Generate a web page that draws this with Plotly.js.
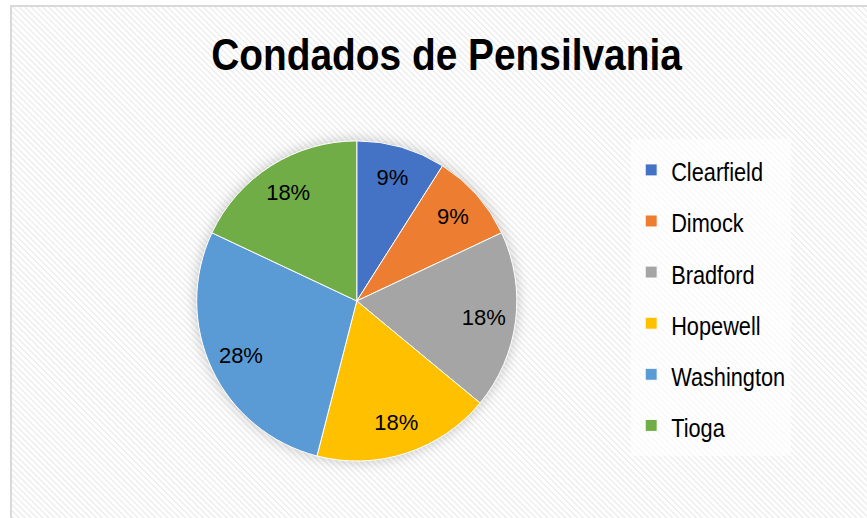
<!DOCTYPE html>
<html>
<head>
<meta charset="utf-8">
<script src="https://cdn.plot.ly/plotly-3.0.1.min.js"></script>
<style>
  html, body { margin: 0; padding: 0; background: #ffffff; }
  #bg {
    position: absolute; left: 10px; top: 5px; width: 870px; height: 520px;
    border-left: 2px solid #d9d9d9; border-top: 2px solid #d9d9d9;
    background: repeating-linear-gradient(45deg, #ffffff 0px, #ffffff 2px, #efefef 2.6px, #efefef 3.6px, #ffffff 4.2px);
  }
  #chart { position: absolute; left: 0; top: 0; width: 867px; height: 518px; }
  .pielayer .trace:first-child { filter: drop-shadow(0px 0px 7px rgba(0,0,0,0.22)); }
  .gtitle { transform-box: fill-box; transform-origin: center; transform: scaleX(0.883); }
  .legendtext { transform-box: fill-box; transform-origin: left center; transform: translateY(-3px) scaleX(0.87); }
</style>
</head>
<body>
<div id="bg"></div>
<div id="chart"></div>
<script>
// Data
var counties = ["Clearfield", "Dimock", "Bradford", "Hopewell", "Washington", "Tioga"];
var shares = [9, 9, 18, 18, 28, 18];
var colors = ["#4472C4", "#ED7D31", "#A5A5A5", "#FFC000", "#5B9BD5", "#70AD47"];
var chartTitle = "Condados de Pensilvania";

var FONT = '"Liberation Sans", Arial, sans-serif';
var legendLabels = counties.map(function (c) { return '<span style="font-size:25px">' + c + '</span>'; });
var pieDomain = { x: [0.226, 0.597], y: [0.110, 0.728] };

// Filled slices (no text)
var slices = {
  type: "pie",
  labels: legendLabels,
  values: shares,
  sort: false,
  direction: "clockwise",
  rotation: 0,
  marker: { colors: colors, line: { color: "#ffffff", width: 1 } },
  textinfo: "none",
  hoverinfo: "label+percent",
  domain: pieDomain
};

// Transparent ring carrying the percentage labels (places them toward the rim)
var labelRing = {
  type: "pie",
  labels: legendLabels,
  values: shares,
  sort: false,
  direction: "clockwise",
  rotation: 0,
  hole: 0.6,
  showlegend: false,
  marker: { colors: counties.map(function () { return "rgba(0,0,0,0)"; }), line: { width: 0 } },
  textinfo: "percent",
  texttemplate: "%{percent:.0%}",
  textposition: "inside",
  insidetextorientation: "horizontal",
  textfont: { family: FONT, size: 22, color: "#000000" },
  hoverinfo: "skip",
  domain: pieDomain
};

var layout = {
  width: 867,
  height: 518,
  margin: { l: 0, r: 0, t: 0, b: 0 },
  paper_bgcolor: "rgba(0,0,0,0)",
  plot_bgcolor: "rgba(0,0,0,0)",
  title: {
    text: "<b>" + chartTitle + "</b>",
    font: { family: FONT, size: 44, color: "#000000" },
    x: 0.515, xref: "paper", xanchor: "center",
    y: 0.895, yref: "paper", yanchor: "middle"
  },
  showlegend: true,
  legend: {
    x: 0.728, xanchor: "left",
    y: 0.731, yanchor: "top",
    font: { family: FONT, size: 37, color: "#000000" },
    bgcolor: "rgba(255,255,255,0.6)",
    borderwidth: 0,
    traceorder: "normal"
  }
};

Plotly.newPlot("chart", [slices, labelRing], layout, { displayModeBar: false, staticPlot: true });
</script>
</body>
</html>
